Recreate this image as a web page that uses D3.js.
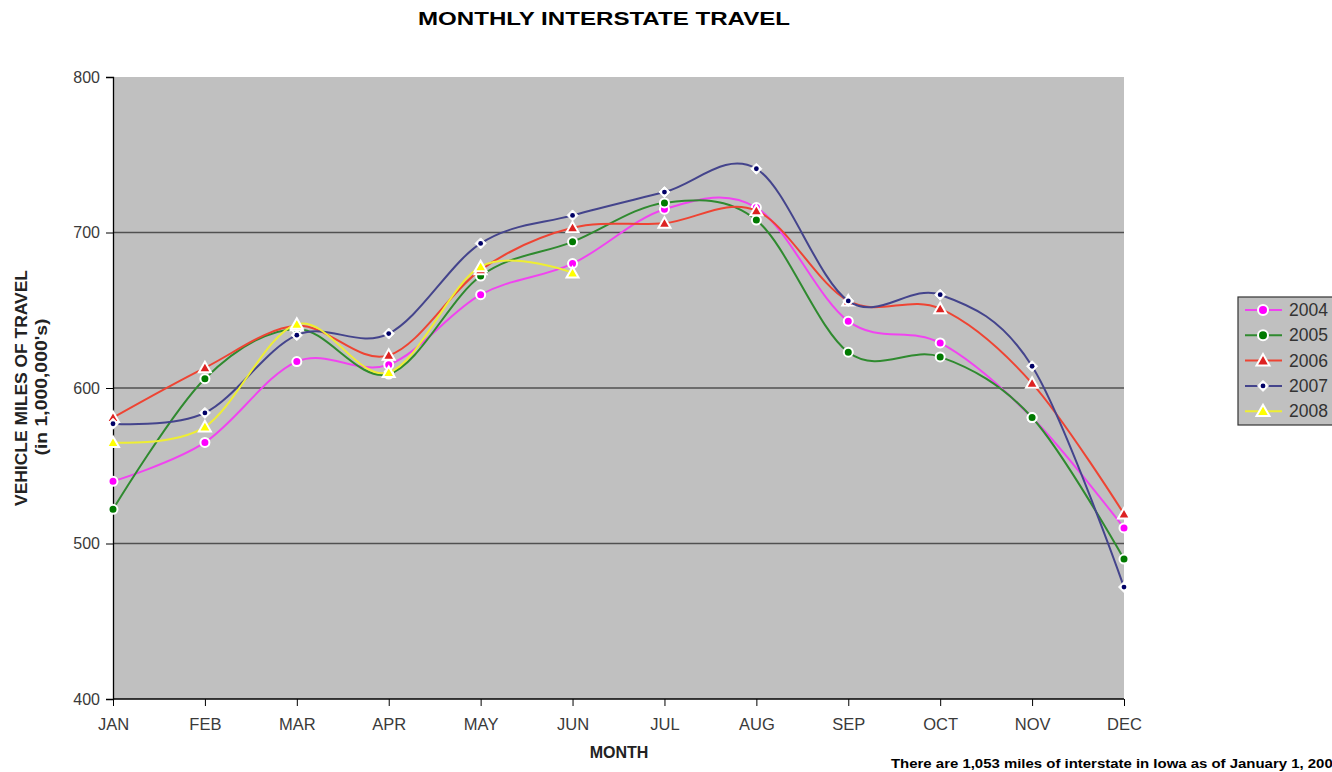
<!DOCTYPE html>
<html><head><meta charset="utf-8">
<script src="https://cdn.jsdelivr.net/npm/d3@7"></script>
<style>
html,body{margin:0;padding:0;background:#fff;}
svg{display:block;font-family:"Liberation Sans",Arial,sans-serif;}
</style></head>
<body><svg id="c" width="1332" height="772"></svg>
<script>
const months = ["JAN","FEB","MAR","APR","MAY","JUN","JUL","AUG","SEP","OCT","NOV","DEC"];
const years = ["2004","2005","2006","2007","2008"];
const v2004 = [540,565,617,615,660,680,715,716,643,629,581,510];
const v2005 = [522,606,638,609,672,694,719,708,623,620,581,490];
const v2006 = [581,613,640,621,676,703,706,714,656,651,603,519];
const v2007 = [577,584,634,635,693,711,726,741,656,660,614,472];
const v2008 = [565,575,641,610,678,674];
const yTicks = [400,500,600,700,800];
const gridVals = [500,600,700];
const colors = ["#F044F0","#2F8A2F","#EE4433","#44448C","#EEEE33"];
const markerFill = ["#FF00FF","#007A00","#DD2222","#000066","#FFFF00"];
const shapes = ["circle","circle","triangle","diamond","triangle"];
const seriesVals = [v2004,v2005,v2006,v2007,v2008];

const svg = d3.select("#c");
const pL=113,pR=1124,pT=77,pB=699;
const x = d3.scalePoint().domain(months).range([pL,pR]);
const y = d3.scaleLinear().domain([400,800]).range([pB,pT]);

svg.append("rect").attr("x",pL).attr("y",pT).attr("width",pR-pL).attr("height",pB-pT).attr("fill","#C0C0C0");
svg.selectAll(".grid").data(gridVals).enter().append("line")
  .attr("x1",pL).attr("x2",pR).attr("y1",d=>y(d)).attr("y2",d=>y(d))
  .attr("stroke","#505050").attr("stroke-width",1.5);

// axes
const yAxis = d3.axisLeft(y).tickValues(yTicks).tickSize(7).tickPadding(6).tickFormat(d3.format("d"));
const gy = svg.append("g").attr("transform",`translate(${pL},0)`).call(yAxis);
gy.select(".domain").attr("stroke","#000").attr("stroke-width",1.3);
gy.selectAll(".tick line").attr("stroke","#000");
gy.selectAll("text").attr("font-size",16).attr("fill","#3a3a3a").attr("font-family","Liberation Sans, Arial");
const xAxis = d3.axisBottom(x).tickSize(7).tickPadding(12);
const gx = svg.append("g").attr("transform",`translate(0,${pB})`).call(xAxis);
gx.select(".domain").attr("stroke","#000").attr("stroke-width",1.3).attr("d",`M${pL},0H${pR}`);
gx.selectAll(".tick line").attr("stroke","#000");
gx.selectAll("text").attr("font-size",16.5).attr("fill","#3a3a3a").attr("font-family","Liberation Sans, Arial");

// lines
const line = d3.line().x((d,i)=>x(months[i])).y(d=>y(d)).curve(d3.curveCardinal.tension(0));
function marker(g, shape, fill, cx, cy, big){
  if(shape==="circle"){
    g.append("circle").attr("cx",cx).attr("cy",cy).attr("r",big?5:4.5).attr("fill",fill).attr("stroke","#fff").attr("stroke-width",2);
  } else if(shape==="triangle"){
    const s=big?6.5:6;
    g.append("path").attr("d",`M${cx},${cy-s}L${cx+s},${cy+s*0.75}L${cx-s},${cy+s*0.75}Z`).attr("fill",fill).attr("stroke","#fff").attr("stroke-width",2);
  } else {
    const s=5.5;
    g.append("path").attr("d",`M${cx},${cy-s}L${cx+s},${cy}L${cx},${cy+s}L${cx-s},${cy}Z`).attr("fill","#fff").attr("stroke","#fff").attr("stroke-width",1);
    g.append("circle").attr("cx",cx).attr("cy",cy).attr("r",2.4).attr("fill",fill);
  }
}
seriesVals.forEach((vals,k)=>{
  const g = svg.append("g");
  g.append("path").datum(vals).attr("d",line).attr("fill","none").attr("stroke",colors[k]).attr("stroke-width",2);
  vals.forEach((v,i)=>marker(g,shapes[k],markerFill[k],x(months[i]),y(v)));
});

// titles
svg.append("text").attr("x",604).attr("y",25).attr("text-anchor","middle").attr("font-weight","bold").attr("font-size",19)
  .attr("textLength",372).attr("lengthAdjust","spacingAndGlyphs").text("MONTHLY INTERSTATE TRAVEL");
svg.append("text").attr("x",619).attr("y",758).attr("text-anchor","middle").attr("font-weight","bold").attr("font-size",16)
  .attr("fill","#222").text("MONTH");
svg.append("text").attr("transform","translate(27,388) rotate(-90)").attr("text-anchor","middle").attr("font-weight","bold").attr("font-size",16)
  .attr("textLength",236).attr("lengthAdjust","spacingAndGlyphs").attr("fill","#222").text("VEHICLE MILES OF TRAVEL");
svg.append("text").attr("transform","translate(47,387) rotate(-90)").attr("text-anchor","middle").attr("font-weight","bold").attr("font-size",16)
  .attr("textLength",137).attr("lengthAdjust","spacingAndGlyphs").attr("fill","#222").text("(in 1,000,000's)");
svg.append("text").attr("x",891).attr("y",768).attr("font-weight","bold").attr("font-size",13)
  .attr("textLength",450).attr("lengthAdjust","spacingAndGlyphs")
  .attr("fill","#000").text("There are 1,053 miles of interstate in Iowa as of January 1, 2008");

// legend
const lg = svg.append("g");
lg.append("rect").attr("x",1238).attr("y",297).attr("width",110).attr("height",128).attr("fill","#C0C0C0").attr("stroke","#333").attr("stroke-width",1.2);
years.forEach((yr,k)=>{
  const ly = 310 + k*25.3;
  lg.append("line").attr("x1",1245).attr("x2",1282).attr("y1",ly).attr("y2",ly).attr("stroke",colors[k]).attr("stroke-width",2);
  marker(lg,shapes[k],markerFill[k],1263,ly,true);
  lg.append("text").attr("x",1289).attr("y",ly+6).attr("font-size",17.5).attr("fill","#333").text(yr);
});
</script></body></html>
